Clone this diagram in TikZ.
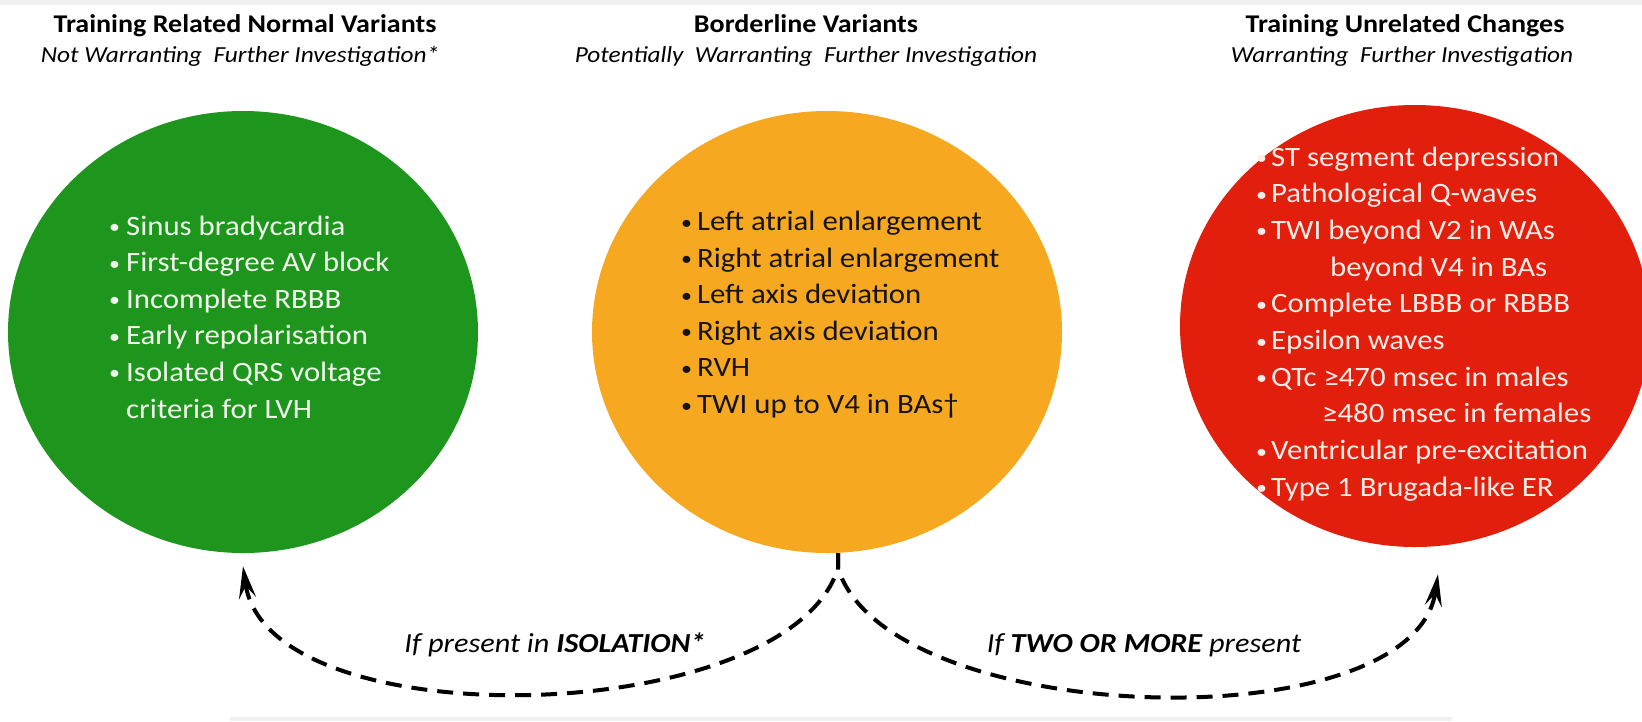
\documentclass[tikz,border=0pt]{standalone}
\usepackage{fontspec}
\setmainfont{Carlito}[FakeStretch=1.1]
\usetikzlibrary{arrows.meta,shapes.geometric}
\definecolor{cgreen}{RGB}{30,150,30}
\definecolor{corange}{RGB}{246,168,32}
\definecolor{cred}{RGB}{226,30,12}
\definecolor{cgray}{RGB}{240,240,240}
\definecolor{gtext}{RGB}{240,248,236}
\definecolor{rtext}{RGB}{252,236,230}
\definecolor{otext}{RGB}{22,20,16}
\newcommand\bul[1]{\makebox[#1][l]{\raisebox{1.5pt}{\fontsize{20}{20}\selectfont•}}}
\begin{document}
\begin{tikzpicture}[x=1pt,y=-1pt,
  blob/.style={ellipse,inner sep=0,minimum width=470pt,minimum height=442pt},
  ttl/.style={anchor=base,inner sep=0,font=\bfseries\fontsize{25.5}{30}\selectfont},
  sub/.style={anchor=base,inner sep=0,font=\itshape\fontsize{23}{28}\selectfont},
  bline/.style={anchor=base west,inner sep=0,font=\fontsize{28}{32}\selectfont},
  lbl/.style={anchor=base,inner sep=0,font=\itshape\fontsize{27.5}{32}\selectfont},
  conn/.style={draw=black,line width=4pt,dash pattern=on 16pt off 10pt,
    -{Stealth[length=32pt,width=17pt,inset=12pt]}}]
\useasboundingbox (0,0) rectangle (1642,721);
\clip (0,0) rectangle (1642,721);
\fill[white] (0,0) rectangle (1642,721);
\fill[cgray] (0,0) rectangle (1642,5);
\fill[cgray] (230,717) rectangle (1452,721);

\node[blob,fill=cgreen] (G) at (243,332) {};
\node[blob,fill=corange] (O) at (827,332) {};
\node[blob,fill=cred] (R) at (1415,326) {};

\node[ttl] (t1) at (245,32) {Training Related Normal Variants};
\node[sub] (s1) at (240,62) {Not Warranting~ Further Investigation*};
\node[ttl] (t2) at (806,32) {Borderline Variants};
\node[sub] (s2) at (806,62) {Potentially~ Warranting~ Further Investigation};
\node[ttl] (t3) at (1405,32) {Training Unrelated Changes};
\node[sub] (s3) at (1402,62) {Warranting~ Further Investigation};

\begin{scope}[every node/.append style={text=gtext}]
\node[bline] (g1) at (109,235) {\bul{17pt}Sinus bradycardia};
\node[bline] (g2) at (109,271.6) {\bul{17pt}First-degree AV block};
\node[bline] (g3) at (109,308.2) {\bul{17pt}Incomplete RBBB};
\node[bline] (g4) at (109,344.8) {\bul{17pt}Early repolarisation};
\node[bline] (g5) at (109,381.4) {\bul{17pt}Isolated QRS voltage};
\node[bline] (g6) at (109,418) {\hspace*{17pt}criteria for LVH};
\end{scope}

\begin{scope}[every node/.append style={text=otext}]
\node[bline] (o1) at (681,230.5) {\bul{16pt}Left atrial enlargement};
\node[bline] (o2) at (681,267.1) {\bul{16pt}Right atrial enlargement};
\node[bline] (o3) at (681,303.7) {\bul{16pt}Left axis deviation};
\node[bline] (o4) at (681,340.3) {\bul{16pt}Right axis deviation};
\node[bline] (o5) at (681,376.9) {\bul{16pt}RVH};
\node[bline] (o6) at (681,413.5) {\bul{16pt}TWI up to V4 in BAs†};
\end{scope}

\begin{scope}[every node/.append style={text=rtext}]
\node[bline] (r1) at (1256,166) {\bul{15pt}ST segment depression};
\node[bline] (r2) at (1256,202.7) {\bul{15pt}Pathological Q-waves};
\node[bline] (r3) at (1256,239.4) {\bul{15pt}TWI beyond V2 in WAs};
\node[bline] (r4) at (1256,276.1) {\hspace*{74pt}beyond V4 in BAs};
\node[bline] (r5) at (1256,312.8) {\bul{15pt}Complete LBBB or RBBB};
\node[bline] (r6) at (1256,349.5) {\bul{15pt}Epsilon waves};
\node[bline] (r7) at (1256,386.2) {\bul{15pt}QTc ≥470 msec in males};
\node[bline] (r8) at (1256,422.9) {\hspace*{66pt}≥480 msec in females};
\node[bline] (r9) at (1256,459.6) {\bul{15pt}Ventricular pre-excitation};
\node[bline] (r10) at (1256,496.3) {\bul{15pt}Type 1 Brugada-like ER};
\end{scope}

\draw[conn] ([xshift=11pt]O.south) -- ++(0,15)
  .. controls +(-50,160) and +(25,175) .. ([yshift=-13pt]G.south);
\draw[conn] ([xshift=11pt]O.south) -- ++(0,15)
  .. controls +(50,160) and +(-25,170) .. ([xshift=23pt,yshift=-27pt]R.south);

\node[lbl] (l1) at (555,652) {If present in \textbf{ISOLATION*}};
\node[lbl] (l2) at (1144,652) {If \textbf{TWO OR MORE} present};
\end{tikzpicture}
\end{document}
